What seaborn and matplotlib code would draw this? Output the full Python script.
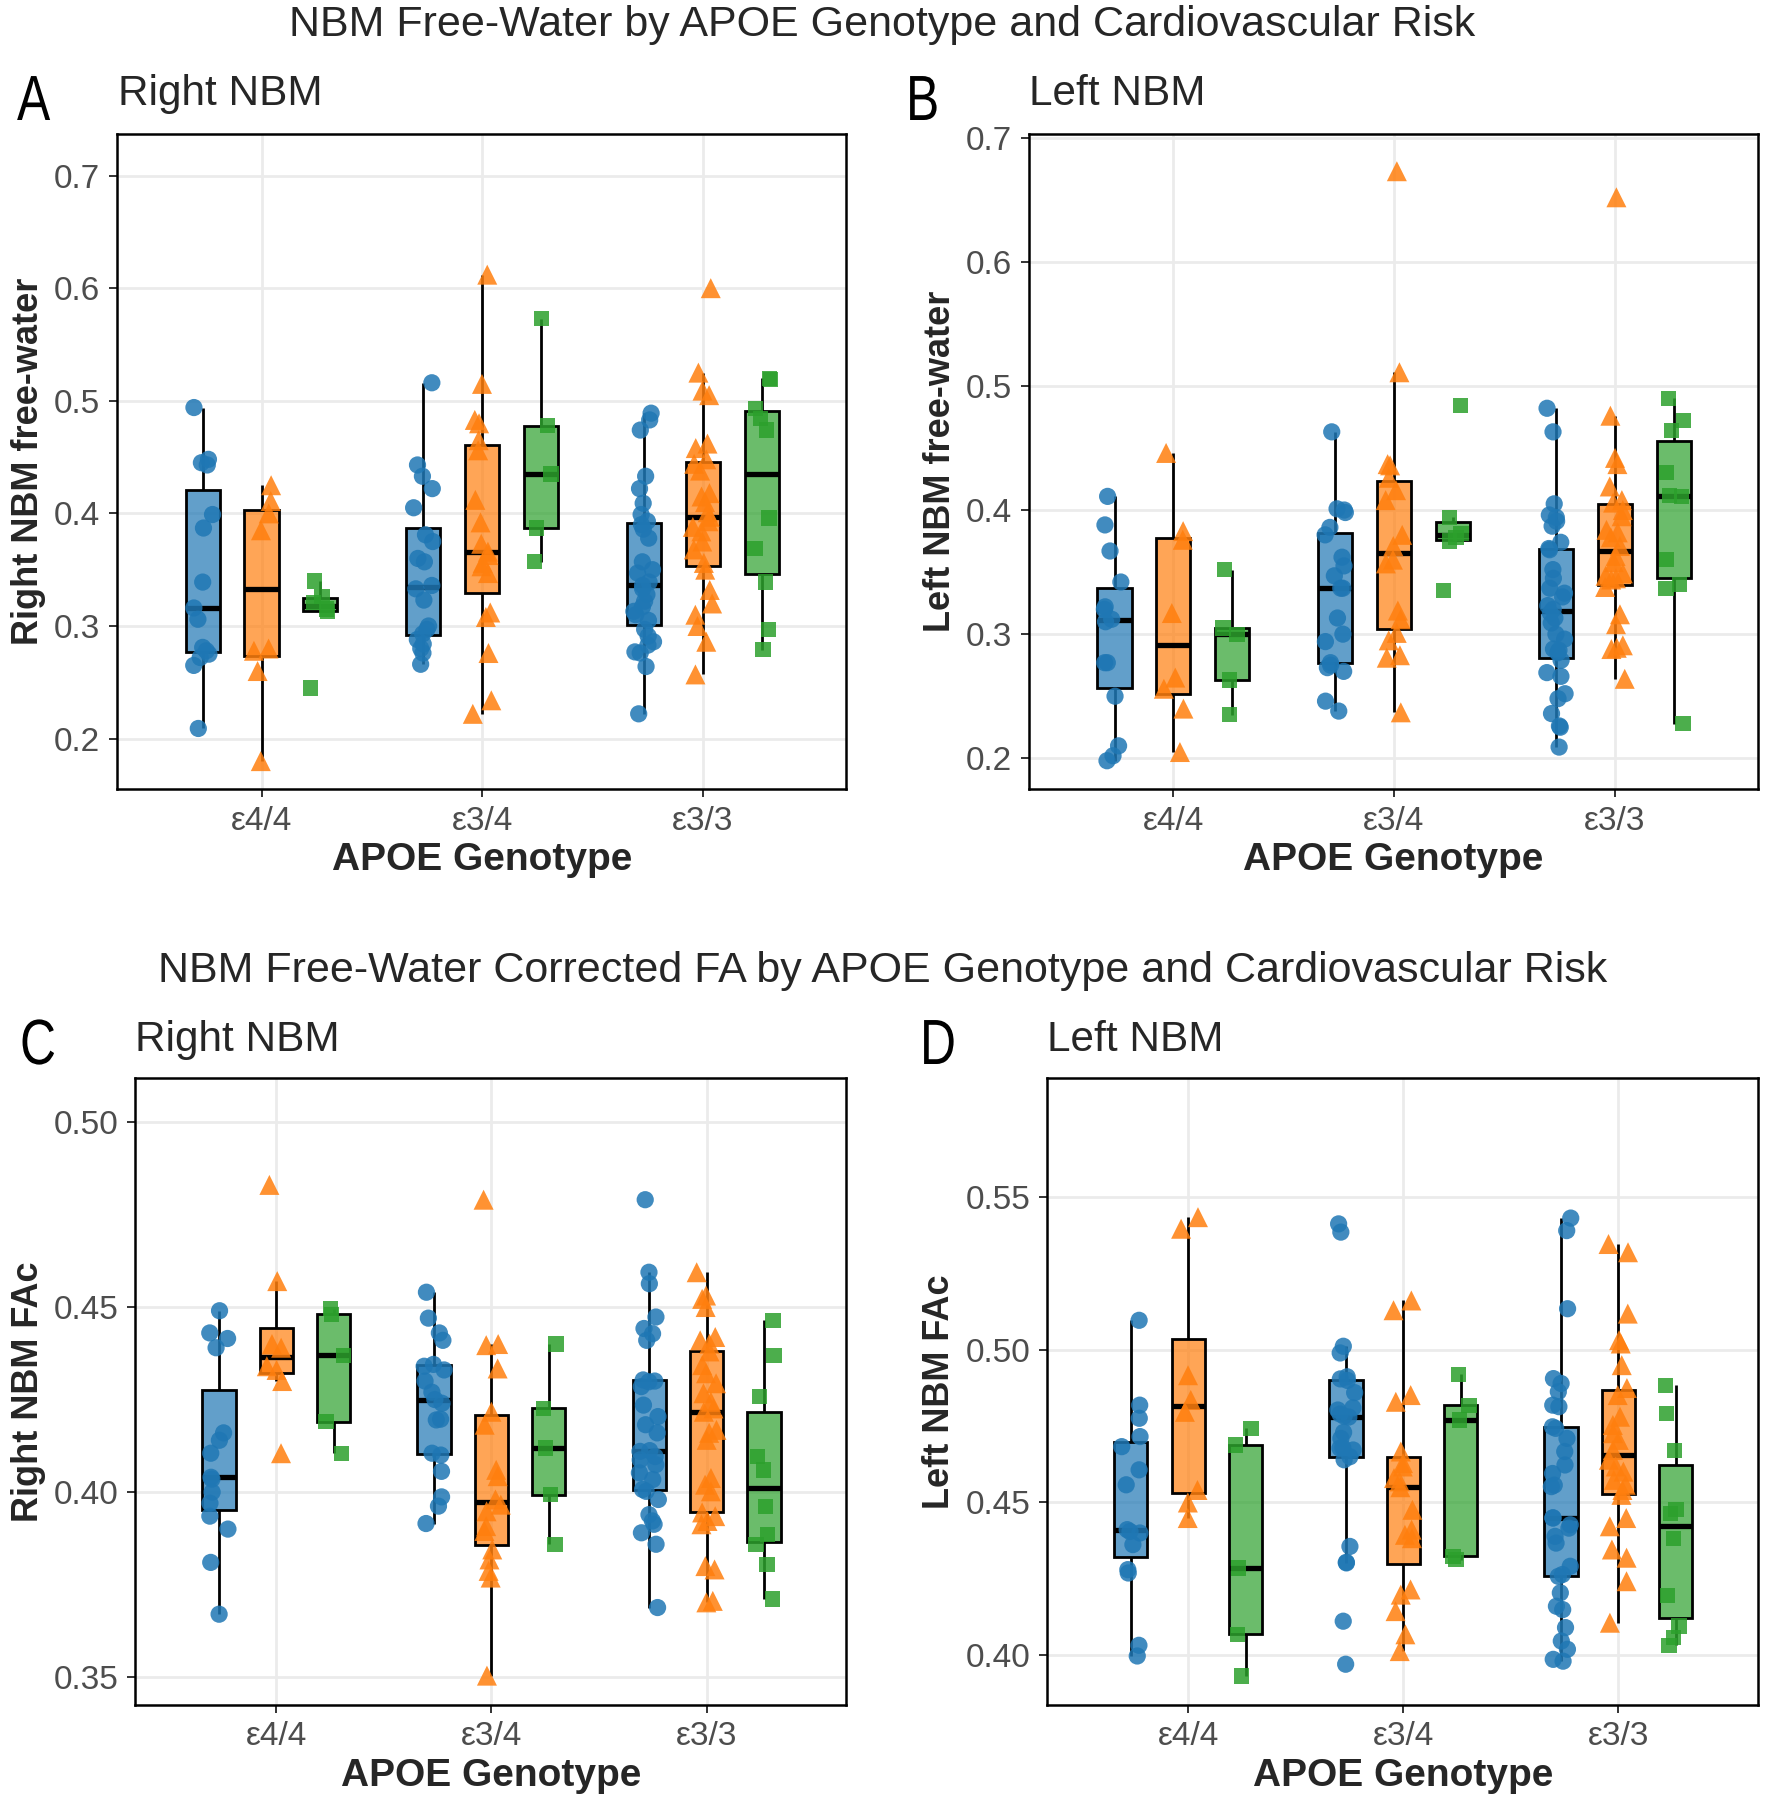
import numpy as np
import pandas as pd
import matplotlib
matplotlib.use("Agg")
from matplotlib import pyplot as plt
from matplotlib.ticker import FormatStrFormatter
from matplotlib.textpath import TextPath
from matplotlib.patches import PathPatch
from matplotlib.font_manager import FontProperties
from matplotlib.transforms import Affine2D
import seaborn as sns

# categories
genotypes = ["ε4/4", "ε3/4", "ε3/3"]
risk_levels = ["Low", "Moderate", "High"]

# Right NBM free-water (panel A)
rfw_e44_low = [0.494, 0.448, 0.445, 0.443, 0.399, 0.387, 0.339, 0.316, 0.306, 0.281, 0.278, 0.275, 0.272, 0.265, 0.209]
rfw_e44_mod = [0.425, 0.411, 0.400, 0.385, 0.280, 0.278, 0.260, 0.180]
rfw_e44_high = [0.340, 0.326, 0.321, 0.315, 0.313, 0.245]
rfw_e34_low = [0.516, 0.443, 0.433, 0.422, 0.405, 0.381, 0.375, 0.360, 0.357, 0.336, 0.333, 0.323, 0.300, 0.297,
               0.293, 0.288, 0.284, 0.280, 0.276, 0.266]
rfw_e34_mod = [0.612, 0.515, 0.483, 0.480, 0.465, 0.456, 0.412, 0.392, 0.373, 0.366, 0.363, 0.356, 0.353, 0.347,
               0.312, 0.308, 0.276, 0.234, 0.222]
rfw_e34_high = [0.573, 0.478, 0.435, 0.387, 0.357]
rfw_e33_low = [0.489, 0.483, 0.474, 0.433, 0.422, 0.409, 0.399, 0.393, 0.390, 0.386, 0.378, 0.357, 0.350, 0.347,
               0.339, 0.336, 0.333, 0.328, 0.322, 0.317, 0.313, 0.310, 0.305, 0.297, 0.291, 0.286, 0.283, 0.277,
               0.276, 0.264, 0.222]
rfw_e33_mod = [0.600, 0.525, 0.509, 0.505, 0.462, 0.458, 0.448, 0.444, 0.438, 0.418, 0.415, 0.410, 0.401, 0.397,
               0.393, 0.388, 0.384, 0.375, 0.368, 0.356, 0.350, 0.332, 0.320, 0.310, 0.300, 0.286, 0.257]
rfw_e33_high = [0.520, 0.519, 0.493, 0.484, 0.474, 0.396, 0.369, 0.339, 0.297, 0.279]

# Left NBM free-water (panel B)
lfw_e44_low = [0.411, 0.388, 0.367, 0.342, 0.322, 0.320, 0.312, 0.310, 0.277, 0.277, 0.250, 0.210, 0.202, 0.198]
lfw_e44_mod = [0.446, 0.383, 0.376, 0.317, 0.265, 0.256, 0.240, 0.205]
lfw_e44_high = [0.352, 0.305, 0.300, 0.263, 0.235]
lfw_e34_low = [0.463, 0.401, 0.400, 0.398, 0.386, 0.380, 0.362, 0.355, 0.347, 0.337, 0.337, 0.313, 0.300, 0.294,
               0.277, 0.275, 0.273, 0.270, 0.246, 0.238]
lfw_e34_mod = [0.673, 0.511, 0.437, 0.436, 0.426, 0.416, 0.408, 0.380, 0.371, 0.360, 0.357, 0.319, 0.312, 0.301,
               0.295, 0.283, 0.281, 0.237]
lfw_e34_high = [0.484, 0.394, 0.381, 0.378, 0.375, 0.335]
lfw_e33_low = [0.482, 0.463, 0.405, 0.396, 0.394, 0.391, 0.387, 0.374, 0.369, 0.368, 0.352, 0.345, 0.337, 0.333,
               0.330, 0.323, 0.320, 0.317, 0.313, 0.309, 0.300, 0.296, 0.288, 0.287, 0.285, 0.279, 0.269, 0.266,
               0.252, 0.248, 0.236, 0.226, 0.225, 0.209]
lfw_e33_mod = [0.652, 0.476, 0.442, 0.437, 0.419, 0.408, 0.406, 0.400, 0.395, 0.384, 0.382, 0.378, 0.371, 0.363,
               0.358, 0.349, 0.347, 0.345, 0.344, 0.338, 0.316, 0.308, 0.291, 0.289, 0.288, 0.264]
lfw_e33_high = [0.490, 0.472, 0.464, 0.430, 0.412, 0.411, 0.360, 0.340, 0.337, 0.228]

# Right NBM FAc (panel C)
rfa_e44_low = [0.449, 0.443, 0.4415, 0.439, 0.416, 0.414, 0.4105, 0.404, 0.4035, 0.400, 0.397, 0.3935, 0.390,
               0.381, 0.367]
rfa_e44_mod = [0.483, 0.457, 0.440, 0.439, 0.434, 0.433, 0.430, 0.4105]
rfa_e44_high = [0.4496, 0.448, 0.437, 0.419, 0.4105]
rfa_e34_low = [0.454, 0.447, 0.443, 0.441, 0.4345, 0.434, 0.433, 0.430, 0.427, 0.425, 0.424, 0.4197, 0.4195,
               0.4105, 0.410, 0.4056, 0.3987, 0.3962, 0.3915]
rfa_e34_mod = [0.479, 0.440, 0.4397, 0.4334, 0.4217, 0.4182, 0.406, 0.4043, 0.398, 0.3966, 0.3948, 0.3908,
               0.3895, 0.3845, 0.3818, 0.3787, 0.3769, 0.3504]
rfa_e34_high = [0.440, 0.4226, 0.4119, 0.3993, 0.3859]
rfa_e33_low = [0.479, 0.4594, 0.4563, 0.4473, 0.4442, 0.4428, 0.441, 0.430, 0.4303, 0.4298, 0.4285, 0.4235,
               0.4204, 0.4182, 0.416, 0.4112, 0.411, 0.4096, 0.4087, 0.4074, 0.4052, 0.4034, 0.4007, 0.4002,
               0.398, 0.3939, 0.3922, 0.3913, 0.389, 0.3859, 0.3688]
rfa_e33_mod = [0.4594, 0.4531, 0.4522, 0.450, 0.4419, 0.441, 0.4401, 0.438, 0.4343, 0.4321, 0.4294, 0.4267,
               0.4244, 0.4226, 0.4217, 0.4168, 0.416, 0.4141, 0.4038, 0.402, 0.4002, 0.3945, 0.3935, 0.3922,
               0.3913, 0.380, 0.3791, 0.3706, 0.3702]
rfa_e33_high = [0.4464, 0.437, 0.4258, 0.4096, 0.406, 0.3962, 0.3886, 0.3859, 0.3805, 0.3711]

# Left NBM FAc (panel D)
lfa_e44_low = [0.5097, 0.4819, 0.4776, 0.4716, 0.4683, 0.4607, 0.4558, 0.4411, 0.4405, 0.440, 0.4362, 0.428,
               0.4269, 0.4032, 0.3997]
lfa_e44_mod = [0.5435, 0.5397, 0.4917, 0.4836, 0.4797, 0.4541, 0.450, 0.4449]
lfa_e44_high = [0.4743, 0.4688, 0.4285, 0.4068, 0.3931]
lfa_e34_low = [0.5413, 0.5386, 0.5012, 0.499, 0.4912, 0.4905, 0.490, 0.486, 0.481, 0.4803, 0.479, 0.4783,
               0.478, 0.473, 0.471, 0.468, 0.4678, 0.4672, 0.465, 0.464, 0.4356, 0.4304, 0.4302, 0.4111, 0.397]
lfa_e34_mod = [0.5162, 0.513, 0.4852, 0.483, 0.4667, 0.4629, 0.4618, 0.458, 0.4569, 0.455, 0.4476, 0.4411,
               0.4394, 0.4383, 0.4215, 0.4198, 0.4144, 0.4068, 0.4013]
lfa_e34_high = [0.492, 0.4819, 0.477, 0.4324, 0.4313]
lfa_e33_low = [0.5432, 0.5391, 0.5135, 0.4906, 0.489, 0.4863, 0.4819, 0.4814, 0.4748, 0.4743, 0.471, 0.4667,
               0.4623, 0.4595, 0.4557, 0.4552, 0.445, 0.4449, 0.4427, 0.4416, 0.4389, 0.4367, 0.4291, 0.4264,
               0.4258, 0.4204, 0.416, 0.4149, 0.409, 0.4046, 0.4019, 0.3986, 0.398]
lfa_e33_mod = [0.5347, 0.532, 0.5119, 0.5032, 0.5021, 0.495, 0.4875, 0.4852, 0.4781, 0.4754, 0.4727, 0.4705,
               0.4672, 0.464, 0.4618, 0.4601, 0.4574, 0.4558, 0.4541, 0.4525, 0.4449, 0.4422, 0.4346, 0.4319,
               0.4242, 0.4106]
lfa_e33_high = [0.4884, 0.4792, 0.467, 0.4478, 0.4463, 0.4383, 0.4195, 0.4095, 0.4057, 0.4032]

# colours and markers
palette = {"Low": "#1F77B4", "Moderate": "#FF7F0E", "High": "#2CA02C"}
markers = {"Low": "o", "Moderate": "^", "High": "s"}
msizes = {"Low": 6.2, "Moderate": 7.2, "High": 5.5}


def long_frame(groups):
    rows = []
    for geno, lists in zip(genotypes, groups):
        for risk, vals in zip(risk_levels, lists):
            for v in vals:
                rows.append((geno, risk, v))
    return pd.DataFrame(rows, columns=["genotype", "risk", "value"])


df_a = long_frame([[rfw_e44_low, rfw_e44_mod, rfw_e44_high],
                   [rfw_e34_low, rfw_e34_mod, rfw_e34_high],
                   [rfw_e33_low, rfw_e33_mod, rfw_e33_high]])
df_b = long_frame([[lfw_e44_low, lfw_e44_mod, lfw_e44_high],
                   [lfw_e34_low, lfw_e34_mod, lfw_e34_high],
                   [lfw_e33_low, lfw_e33_mod, lfw_e33_high]])
df_c = long_frame([[rfa_e44_low, rfa_e44_mod, rfa_e44_high],
                   [rfa_e34_low, rfa_e34_mod, rfa_e34_high],
                   [rfa_e33_low, rfa_e33_mod, rfa_e33_high]])
df_d = long_frame([[lfa_e44_low, lfa_e44_mod, lfa_e44_high],
                   [lfa_e34_low, lfa_e34_mod, lfa_e34_high],
                   [lfa_e33_low, lfa_e33_mod, lfa_e33_high]])

sns.set_style("white")
plt.rcParams['font.family'] = ['Liberation Sans', 'DejaVu Sans']

np.random.seed(7)


def draw_panel(ax, df, ylim, yticks, fmt, ylabel):
    sns.boxplot(data=df, x="genotype", y="value", hue="risk", order=genotypes, hue_order=risk_levels,
                palette=palette, saturation=1, width=0.8, gap=0.42, dodge=True, showcaps=False,
                showfliers=False, linecolor="black", linewidth=1.0,
                medianprops={"linewidth": 1.9}, legend=False, ax=ax)
    for p in ax.patches:
        fc = p.get_facecolor()
        p.set_facecolor((fc[0], fc[1], fc[2], 0.7))
    for lvl in risk_levels:
        sub = df[df["risk"] == lvl]
        sns.stripplot(data=sub, x="genotype", y="value", hue="risk", order=genotypes, hue_order=risk_levels,
                      palette=palette, dodge=True, jitter=0.14, marker=markers[lvl], size=msizes[lvl],
                      alpha=0.85, linewidth=0, legend=False, ax=ax, zorder=3)
    ax.set_xlim(-0.655, 2.65)
    ax.set_ylim(*ylim)
    ax.set_yticks(yticks)
    ax.yaxis.set_major_formatter(FormatStrFormatter(fmt))
    ax.grid(True, color="#EBEBEB", linewidth=1.0)
    ax.set_axisbelow(True)
    for s in ax.spines.values():
        s.set_color("black")
        s.set_linewidth(0.9)
    ax.tick_params(axis="both", length=3, width=0.7, color="#333333", labelcolor="#4D4D4D",
                   labelsize=12, pad=3, bottom=True, left=True)
    ax.set_xlabel("APOE Genotype", fontsize=14, fontweight="bold", labelpad=2)
    ax.set_ylabel(ylabel, fontsize=13, fontweight="bold", labelpad=3)


fig = plt.figure(figsize=(8.86, 9.01), dpi=200)
ax_a = fig.add_axes([0.066, 0.562, 0.4117, 0.3635])
ax_b = fig.add_axes([0.5806, 0.562, 0.4116, 0.3635])
ax_c = fig.add_axes([0.0764, 0.0541, 0.4013, 0.3475])
ax_d = fig.add_axes([0.591, 0.0541, 0.4012, 0.3475])

draw_panel(ax_a, df_a, (0.155, 0.7367), [0.2, 0.3, 0.4, 0.5, 0.6, 0.7], "%.1f", "Right NBM free-water")
draw_panel(ax_b, df_b, (0.175, 0.7028), [0.2, 0.3, 0.4, 0.5, 0.6, 0.7], "%.1f", "Left NBM free-water")
draw_panel(ax_c, df_c, (0.3426, 0.5118), [0.35, 0.40, 0.45, 0.50], "%.2f", "Right NBM FAc")
draw_panel(ax_d, df_d, (0.3838, 0.589), [0.40, 0.45, 0.50, 0.55], "%.2f", "Left NBM FAc")

fig.text(0.498, 0.986, "NBM Free-Water by APOE Genotype and Cardiovascular Risk",
         ha="center", va="center", fontsize=15.5)
fig.text(0.498, 0.461, "NBM Free-Water Corrected FA by APOE Genotype and Cardiovascular Risk",
         ha="center", va="center", fontsize=15.5)

# panel letters in a narrow face: glyph outline squeezed horizontally
letter_font = FontProperties(family="Liberation Sans")
for letter, x_in, y_in in [("A", 0.085, 8.41), ("B", 4.53, 8.41), ("C", 0.10, 3.69), ("D", 4.60, 3.69)]:
    tp = TextPath((0, 0), letter, size=23, prop=letter_font)
    tr = Affine2D().scale(0.78 / 72, 1.0 / 72).translate(x_in, y_in) + fig.dpi_scale_trans
    fig.add_artist(PathPatch(tp, transform=tr, facecolor="black", edgecolor="none"))

for name, x, y in [("Right NBM", 0.0667, 0.948), ("Left NBM", 0.5806, 0.948),
                   ("Right NBM", 0.0764, 0.4227), ("Left NBM", 0.591, 0.4227)]:
    fig.text(x, y, name, ha="left", va="center", fontsize=15.2)

fig.savefig("out.png", dpi=200)
